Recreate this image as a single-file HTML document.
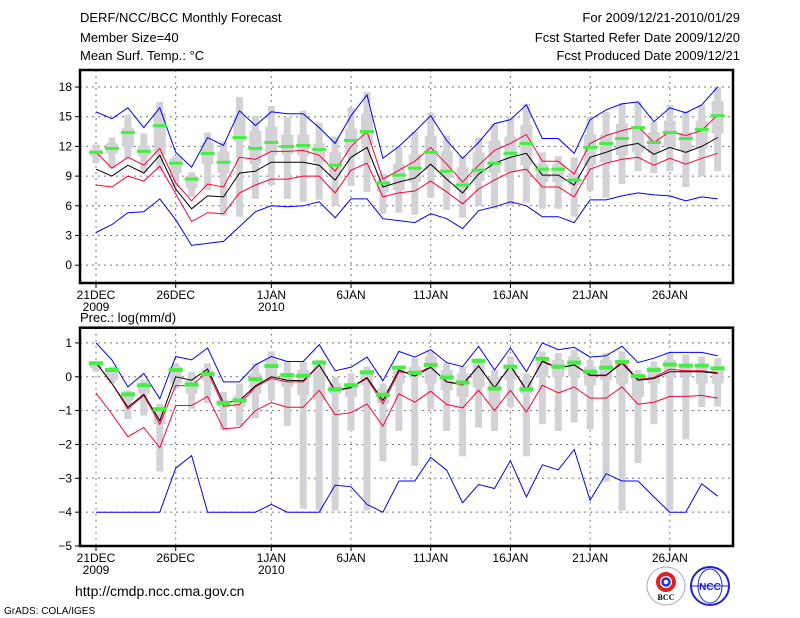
<!DOCTYPE html>
<html><head><meta charset="utf-8">
<style>
html,body{margin:0;padding:0;background:#fff;}
svg{display:block;font-family:"Liberation Sans",sans-serif;}
text{fill:#000;}
</style></head>
<body>
<svg id="chart" width="800" height="618" viewBox="0 0 800 618" xmlns="http://www.w3.org/2000/svg">
  <rect width="800" height="618" fill="#fff"/>
  <g font-size="13">
    <text x="80" y="22">DERF/NCC/BCC Monthly Forecast</text>
    <text x="80" y="42">Member Size=40</text>
    <text x="80" y="60">Mean Surf. Temp.: °C</text>
    <text x="740" y="22" text-anchor="end">For 2009/12/21-2010/01/29</text>
    <text x="740" y="42" text-anchor="end">Fcst Started Refer Date 2009/12/20</text>
    <text x="740" y="60" text-anchor="end">Fcst Produced Date 2009/12/21</text>
    <text x="80" y="322">Prec.: log(mm/d)</text>
    <text x="75" y="596" font-size="14">http://cmdp.ncc.cma.gov.cn</text>
    <text x="4" y="614" font-size="10">GrADS: COLA/IGES</text>
  </g>
  <g id="top"></g>
  <g id="bot"></g>
  <g>
    <circle cx="666" cy="586" r="19" fill="#fff" stroke="#aaa" stroke-width="1"/>
    <circle cx="666" cy="582" r="8" fill="none" stroke="#d22" stroke-width="4"/>
    <circle cx="666" cy="582" r="3.5" fill="none" stroke="#23c" stroke-width="2.5"/>
    <text x="666" y="600" font-size="8" text-anchor="middle" font-family="Liberation Serif,serif" font-weight="bold">BCC</text>
  </g>
  <g>
    <circle cx="710" cy="586" r="19" fill="#fff" stroke="#22c" stroke-width="2"/>
    <ellipse cx="710" cy="586" rx="12" ry="17" fill="none" stroke="#22c" stroke-width="1"/>
    <line x1="692" y1="586" x2="728" y2="586" stroke="#22c"/>
    <text x="710" y="590" font-size="10" text-anchor="middle" fill="#22c" style="fill:#22c" font-weight="bold">NCC</text>
  </g>
</svg>
<script>
// ---- shared x axis ----
const dayCount = 40;
const xTickDays = [0,5,11,16,21,26,31,36];
const xTickLabels = ["21DEC","26DEC","1JAN","6JAN","11JAN","16JAN","21JAN","26JAN"];
const xYearLabels = {0:"2009",11:"2010"};

// ---- temperature panel data ----
const tYTicks = [0,3,6,9,12,15,18];
const tBlueHi = [15.5,14.8,15.9,13.9,15.9,11.4,9.9,12.9,12.1,15.6,14.1,15.5,15.3,15.3,13.9,12.3,15.1,17.2,10.8,12.0,13.5,15.1,12.6,10.8,12.4,14.3,14.7,16.2,12.8,12.8,11.3,14.7,15.7,16.3,16.5,14.5,15.9,15.4,16.2,18.0];
const tRedHi = [11.4,9.8,10.9,10.1,11.8,8.3,6.5,8.2,7.9,10.9,10.7,11.5,11.5,11.6,11.1,9.5,12.0,13.5,8.7,9.6,10.5,11.9,10.2,8.4,10.1,11.6,12.3,13.2,10.5,10.5,9.2,12.3,13.1,13.6,14.0,12.4,13.5,13.1,13.6,15.2];
const tMean = [9.7,9.0,10.1,9.3,11.1,7.7,5.7,7.0,6.9,9.3,9.5,10.4,10.4,10.4,10.1,8.6,10.9,11.9,7.9,8.4,8.8,10.2,8.7,7.3,9.2,10.3,10.9,11.3,9.1,9.1,8.1,10.9,11.4,12.0,12.3,11.2,11.9,11.4,12.0,12.9];
const tRedLo = [8.1,7.9,9.0,8.5,10.0,7.2,4.4,5.3,5.2,7.3,8.1,8.7,8.7,9.0,9.0,7.3,9.6,10.3,6.9,7.3,7.5,8.5,7.4,6.2,7.7,8.6,9.4,9.7,7.9,7.9,6.9,9.7,10.3,10.7,10.9,10.1,10.8,10.2,10.8,11.3];
const tBlueLo = [3.3,4.1,5.3,5.4,6.7,4.6,2.0,2.2,2.4,3.9,5.4,6.0,5.9,6.0,6.4,4.8,6.7,6.7,4.7,4.5,4.3,5.2,4.7,3.7,5.5,5.9,6.4,6.0,4.9,4.9,4.3,6.6,6.6,7.0,7.3,7.1,7.0,6.5,6.9,6.7];
const tGreen = [11.4,11.8,13.4,11.5,14.1,10.3,8.7,11.3,10.4,12.9,11.8,12.4,12.0,12.1,11.7,10.1,12.6,13.5,8.3,9.1,9.8,11.4,9.5,8.1,9.6,10.3,11.3,12.3,9.7,9.7,8.6,11.9,12.3,12.8,13.9,12.4,13.4,12.8,13.7,15.1];
const tMax = [12.2,12.9,15.2,13.3,16.5,11.0,9.4,13.4,12.5,17.0,15.1,16.1,14.9,15.6,14.4,13.0,15.9,17.5,9.2,12.0,13.5,15.4,13.1,11.0,12.9,14.3,15.0,16.3,11.4,11.0,10.9,15.0,15.5,16.4,16.5,14.5,16.2,15.6,16.2,18.0];
const tQ3 = [11.7,12.3,13.9,12.1,15.4,10.8,9.0,12.4,11.5,15.2,13.6,14.0,13.2,13.2,12.3,11.4,13.8,15.3,8.6,10.2,11.2,13.1,11.5,9.9,11.4,12.6,13.0,14.2,10.2,10.2,9.3,13.2,13.2,14.3,14.0,13.4,14.6,13.4,14.6,16.6];
const tQ1 = [11.0,11.3,11.9,11.0,11.2,9.3,7.8,10.2,9.3,12.5,10.2,11.1,11.2,11.1,10.4,8.9,11.1,12.2,7.4,7.6,8.4,9.6,8.8,7.6,8.5,9.3,9.4,10.1,8.4,8.4,8.1,10.1,10.4,11.1,11.4,11.3,11.9,11.6,11.8,13.3];
const tMin = [10.3,9.8,10.8,9.4,9.5,7.9,6.9,7.6,5.0,4.9,6.7,8.1,6.7,6.4,6.6,6.0,8.0,7.4,5.2,5.3,5.1,6.8,5.6,4.8,6.0,5.7,6.0,6.3,5.7,5.7,4.9,7.5,6.8,8.2,9.5,9.3,9.5,7.9,9.0,9.5];

// ---- precipitation panel data ----
const pYTicks = [-5,-4,-3,-2,-1,0,1];
const pBlueHi = [1.0,0.5,-0.3,0.1,-0.65,0.6,0.5,0.85,-0.15,-0.15,0.35,0.6,0.45,0.45,0.95,0.18,0.28,0.58,-0.12,0.75,0.58,0.8,0.42,0.3,0.9,0.2,0.85,0.15,1.0,0.8,0.87,0.58,0.62,0.9,0.42,0.55,0.72,0.72,0.72,0.62];
const pRedHi = [0.42,-0.2,-0.95,-0.55,-1.4,-0.26,-0.26,0.15,-0.87,-0.82,-0.3,-0.05,-0.15,-0.15,0.35,-0.42,-0.32,-0.05,-0.8,0.15,0.1,0.28,-0.15,-0.25,0.32,-0.32,0.32,-0.4,0.47,0.27,0.35,0.03,0.03,0.45,-0.08,-0.02,0.22,0.18,0.18,0.12];
const pMean = [0.42,-0.2,-0.9,-0.52,-1.3,0.0,-0.1,0.23,-0.77,-0.7,-0.27,0.0,-0.1,-0.12,0.35,-0.4,-0.32,-0.02,-0.7,0.2,0.02,0.28,-0.15,-0.22,0.32,-0.32,0.32,-0.38,0.45,0.25,0.35,0.05,0.05,0.4,-0.1,-0.05,0.15,0.15,0.15,0.1];
const pRedLo = [-0.48,-1.1,-1.77,-1.5,-2.1,-0.85,-0.85,-0.58,-1.54,-1.5,-1.0,-0.76,-0.9,-0.9,-0.4,-1.12,-1.06,-0.8,-1.46,-0.5,-0.75,-0.43,-0.82,-0.92,-0.4,-1.0,-0.4,-1.04,-0.25,-0.48,-0.3,-0.63,-0.63,-0.3,-0.81,-0.75,-0.58,-0.58,-0.55,-0.63];
const pBlueLo = [-4,-4,-4,-4,-4,-2.7,-2.33,-4,-4,-4,-4,-3.77,-4,-4,-4,-3.2,-3.25,-3.77,-4,-3.08,-3.08,-2.38,-2.76,-3.72,-3.18,-3.3,-2.48,-3.55,-2.6,-2.75,-2.15,-3.65,-2.86,-3.08,-3.08,-3.55,-4,-4,-3.16,-3.53];
const pGreen = [0.4,0.2,-0.52,-0.25,-0.96,0.2,-0.23,0.08,-0.77,-0.7,-0.07,0.32,0.05,0.03,0.42,-0.37,-0.25,0.13,-0.53,0.27,0.12,0.35,-0.02,-0.17,0.47,-0.35,0.3,-0.37,0.53,0.3,0.42,0.15,0.27,0.44,0.02,0.2,0.36,0.33,0.33,0.25];
const pMax = [0.45,0.3,-0.4,-0.1,-0.8,0.4,0.15,0.4,-0.45,-0.2,0.4,0.75,0.45,0.45,0.5,0.0,0.1,0.3,-0.2,0.3,0.55,0.75,0.4,0.3,0.55,0.2,0.6,0.1,0.75,0.7,0.8,0.5,0.7,0.75,0.2,0.45,0.7,0.65,0.6,0.55];
const pQ3 = [0.4,0.2,-0.45,-0.2,-0.9,0.3,-0.1,0.2,-0.7,-0.55,0.1,0.5,0.1,0.2,0.4,-0.2,-0.2,0.2,-0.35,0.2,0.3,0.6,0.2,0.1,0.4,0.0,0.35,-0.1,0.5,0.5,0.6,0.3,0.5,0.5,0.0,0.3,0.5,0.3,0.3,0.3];
const pQ1 = [0.25,-0.1,-0.7,-0.5,-1.4,-0.2,-0.5,-0.1,-0.9,-0.9,-0.5,-0.1,-0.3,-0.55,-0.7,-0.5,-0.6,-0.25,-0.8,-0.2,0.0,-0.2,-0.4,-0.6,-0.3,-0.8,-0.1,-0.5,0.0,0.0,0.0,-0.25,-0.1,-0.2,-0.6,-0.2,0.0,0.0,-0.2,-0.2];
const pMin = [0.15,-0.2,-1.25,-1.15,-2.8,-0.35,-0.95,-0.78,-1.58,-1.45,-1.22,-0.7,-1.45,-3.9,-3.95,-3.95,-1.6,-3.95,-2.5,-1.6,-2.63,-0.97,-1.6,-2.35,-1.5,-1.6,-0.9,-2.35,-1.4,-1.6,-1.35,-1.55,-3.1,-3.95,-2.55,-1.4,-3.95,-1.85,-0.9,-0.88];

const NS = "http://www.w3.org/2000/svg";
const X0 = 96, DX = 15.94, FL = 80, FR = 733;
function xAt(i){ return X0 + DX*i; }
function mk(tag, attrs, parent){
  const e = document.createElementNS(NS, tag);
  for (const k in attrs) e.setAttribute(k, attrs[k]);
  parent.appendChild(e);
  return e;
}

function drawPanel(g, top, bottom, vTop, vBot, yTicks, d, greenH, prefix){
  const yAt = v => top + (vTop - v) * (bottom - top) / (vTop - vBot);
  // grid
  yTicks.forEach(t => {
    const y = yAt(t);
    const gl = mk("line", {x1:FL, x2:FR, y1:y, y2:y, stroke:"#777", "stroke-width":1, "stroke-dasharray":"2,4"}, g);
    
    
    const tk = mk("line", {x1:FL-5, x2:FL, y1:y, y2:y, stroke:"#000"}, g);
    
    
    const tx = mk("text", {x:FL-8, y:y+4, "font-size":12, "text-anchor":"end"}, g);
    tx.textContent = (t < 0 ? "\u2212" + (-t) : t);
    
    
  });
  xTickDays.forEach((day, k) => {
    const x = xAt(day);
    const gl = mk("line", {x1:x, x2:x, y1:top, y2:bottom, stroke:"#777", "stroke-width":1, "stroke-dasharray":"2,4"}, g);
    
    
    const tk = mk("line", {x1:x, x2:x, y1:bottom, y2:bottom+5, stroke:"#000"}, g);
    
    
    const tx = mk("text", {x:x, y:bottom+16, "font-size":12, "text-anchor":"middle"}, g);
    tx.textContent = xTickLabels[k];
    
    
    if (xYearLabels[day]) {
      const yr = mk("text", {x:x, y:bottom+28, "font-size":12, "text-anchor":"middle"}, g);
      yr.textContent = xYearLabels[day];
      
      
    }
  });
  // bars
  for (let i = 0; i < dayCount; i++){
    const x = xAt(i);
    const outer = mk("rect", {x:x-3.5, width:7, y:yAt(d.max[i]), height:Math.max(0,yAt(d.min[i])-yAt(d.max[i])), fill:"#d3d3d7"}, g);
    
    
    const inner = mk("rect", {x:x-6, width:12, y:yAt(d.q3[i]), height:Math.max(0,yAt(d.q1[i])-yAt(d.q3[i])), fill:"#d3d3d7"}, g);
    
    
  }
  // lines
  const series = [[d.blueLo,"#0000ff","blue-lower-line"],[d.blueHi,"#0000ff","blue-upper-line"],[d.redLo,"#ff0030","red-lower-line"],[d.redHi,"#ff0030","red-upper-line"],[d.mean,"#000","ensemble-mean-line"]];
  series.forEach(s => {
    const pts = s[0].map((v,i) => xAt(i).toFixed(1)+","+yAt(v).toFixed(1)).join(" ");
    const pl = mk("polyline", {points:pts, fill:"none", stroke:s[1], "stroke-width":1}, g);
    
    
  });
  // green marks
  d.green.forEach((v,i) => {
    const r = mk("rect", {x:xAt(i)-7, width:14, y:yAt(v)-greenH/2, height:greenH, fill:"#44ee44"}, g);
    
    
  });
  // frame
  const fr = mk("rect", {x:FL, y:top, width:FR-FL, height:bottom-top, fill:"none", stroke:"#000", "stroke-width":2.5}, g);
  
  
}

drawPanel(document.getElementById("top"), 70, 283, 19.72, -1.8, tYTicks,
  {blueHi:tBlueHi, redHi:tRedHi, mean:tMean, redLo:tRedLo, blueLo:tBlueLo, green:tGreen, max:tMax, q3:tQ3, q1:tQ1, min:tMin}, 3, "temp");
drawPanel(document.getElementById("bot"), 327.7, 546, 1.45, -5, pYTicks,
  {blueHi:pBlueHi, redHi:pRedHi, mean:pMean, redLo:pRedLo, blueLo:pBlueLo, green:pGreen, max:pMax, q3:pQ3, q1:pQ1, min:pMin}, 4, "prec");
</script>
</body></html>
